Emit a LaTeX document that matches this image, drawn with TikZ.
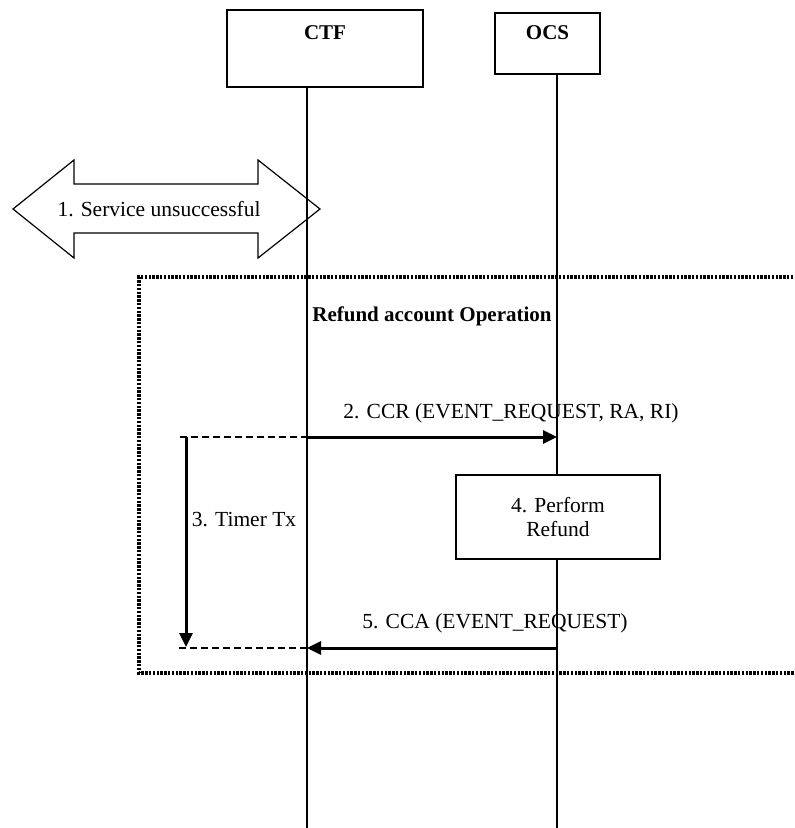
\documentclass[tikz,border=0pt]{standalone}
\usepackage{fontspec}
\setmainfont{Liberation Serif}
\usetikzlibrary{arrows.meta}

\begin{document}
\begin{tikzpicture}[x=1pt, y=-1pt,
	every node/.style={font=\fontsize{21.5}{24}\selectfont},
	hd/.style={font=\fontsize{21}{24}\selectfont\bfseries},
	entity/.style={draw, line width=1.2pt, minimum width=#1, inner sep=0pt},
	msg/.style={line width=3pt, -{Triangle[length=14pt,width=13pt]}},
	ext/.style={line width=1.4pt, dash pattern=on 7pt off 4pt},
	frame/.style={line width=3.4pt, dash pattern=on 2.4pt off 1.4pt}]
	\useasboundingbox (0,0) rectangle (795,828);
	% entities
	\node [entity=196pt, minimum height=77pt] (ctf) at (325,48.5) {};
	\node [hd] (ctflbl) at ([yshift=-23pt]ctf.north) {CTF};
	\node [entity=105pt, minimum height=61pt] (ocs) at (547.5,43.5) {};
	\node [hd] (ocslbl) at ([yshift=-20pt]ocs.north) {OCS};
	% life lines
	\coordinate (ctfT) at (307,87); \coordinate (ctfB) at (307,828);
	\coordinate (ocsT) at (557,74); \coordinate (ocsB) at (557,828);
	\draw [line width=1.2pt] (ctfT) -- (ctfB);
	\draw [line width=1.2pt] (ocsT) -- (ocsB);
	% 1.
	\draw [line width=1.2pt] (13,209) -- (74,160) -- (74,184) -- (258,184) -- (258,160)
		-- (320,209) -- (258,258) -- (258,233) -- (74,233) -- (74,258) -- cycle;
	\node (svc) at (159,209) {1. Service unsuccessful};
	% operation frame
	\draw [frame] (797,277) -- (139,277) -- (139,673) -- (797,673);
	\node [hd] (op) at (432,316) {Refund account Operation};
	% 2.
	\coordinate (ccrS) at (180,437); \coordinate (ccrC) at (307,437); \coordinate (ccrE) at (557,437);
	\draw [ext] (ccrS) -- (ccrC);
	\draw [msg] (ccrC) -- (ccrE);
	\node (ccr) at (511,413) {2. CCR (EVENT\_REQUEST, RA, RI)};
	% 3.
	\coordinate (txS) at (186,437); \coordinate (txE) at (186,647);
	\draw [msg] (txS) -- (txE);
	\node (tx) at (244,520) {3. Timer Tx};
	% 4.
	\node [entity=204pt, minimum height=84pt, fill=white, align=center] (refund) at (558,517) {4. Perform\\Refund};
	% 5.
	\coordinate (ccaS) at (557,648); \coordinate (ccaC) at (307,648); \coordinate (ccaE) at (177,648);
	\draw [msg] (ccaS) -- (ccaC);
	\draw [ext] (ccaC) -- (ccaE);
	\node (cca) at (495,623) {5. CCA (EVENT\_REQUEST)};
\end{tikzpicture}
\end{document}
